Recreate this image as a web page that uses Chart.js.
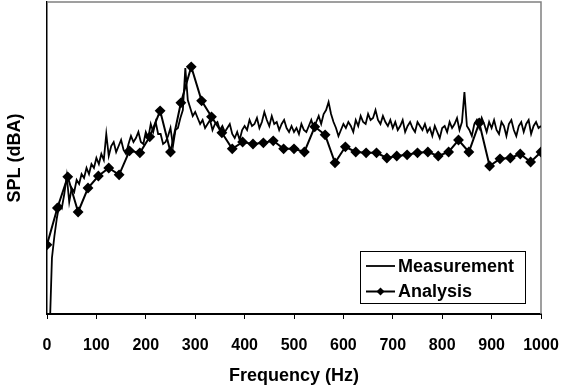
<!DOCTYPE html>
<html>
<head>
<meta charset="utf-8">
<script src="https://cdn.jsdelivr.net/npm/chart.js@4.4.1/dist/chart.umd.min.js"></script>
<style>
  body { margin: 0; background: #fff; }
  #wrap { width: 561px; height: 387px; }
</style>
</head>
<body>
<div id="wrap"><canvas id="chart-spl" width="561" height="387"></canvas></div>
<script>
// ---- data (SPL in arbitrary dBA units, the axis has no numbers) ----
const xTicks = [0, 100, 200, 300, 400, 500, 600, 700, 800, 900, 1000];

// analysis points, one every ~20.8 Hz
const analysisFreq = [0, 21, 42, 63, 83, 104, 125, 146, 167, 188, 208, 229, 250, 271, 292, 313, 333,
    354, 375, 396, 417, 438, 458, 479, 500, 521, 542, 563, 583, 604, 625, 646, 667, 688, 708, 729,
    750, 771, 792, 813, 833, 854, 875, 896, 917, 938, 958, 979, 1000];
const analysisSpl = [37.3, 46.5, 54.3, 45.5, 51.5, 54.5, 56.5, 54.8, 60.8, 60.3, 64.3, 70.8, 60.5,
    72.8, 81.8, 73.3, 69.3, 65.3, 61.3, 63.0, 62.5, 62.8, 63.3, 61.3, 61.3, 60.5, 66.8, 64.8, 57.8,
    61.8, 60.5, 60.3, 60.3, 59.0, 59.5, 59.8, 60.3, 60.5, 59.5, 60.5, 63.5, 60.5, 67.8, 57.0, 58.8,
    59.0, 60.0, 58.0, 60.5];

// measurement, sampled every 5 Hz starting at 5 Hz
const measStart = 5;
const measStep = 5;
const measSpl = [
    14, 34, 39.5, 44, 47.5, 46.5, 50, 54.5, 48, 51.5, 50.5, 53.5, 52.5, 55, 54, 56.5, 55, 57.5, 56.5, 59,
    57.5, 60, 58.5, 65, 59.5, 62, 63, 60.5, 62, 63.5, 61, 60, 62.5, 64.5, 63, 64, 65.5, 63, 62.5, 65.5,
    64, 67.5, 65.5, 68, 65, 65, 62.5, 63, 64.5, 66.5, 62, 66, 66.5, 69, 71, 81.5, 73.5, 71.5, 69.5, 70.5,
    69, 67.5, 68.5, 66.5, 67.5, 68.5, 66, 67.5, 68, 66, 67, 65.5, 66.5, 67.5, 65, 64, 65.5, 63.5, 66, 67,
    66, 68.5, 67, 67.5, 69, 66.5, 68, 70.5, 68.5, 67, 69.5, 67.5, 68, 66, 67.5, 68.5, 66.5, 65.5, 67, 65.5,
    66.5, 65, 67.5, 66, 65.5, 67, 68.5, 66.5, 68, 69.5, 67.5, 70, 71, 73, 70, 68, 66.5, 64.5, 66, 67.5,
    66.5, 68, 67, 65.5, 68.5, 67, 69.5, 68, 67.5, 70, 68.5, 69, 71, 68.5, 67.5, 69.5, 68, 67, 68.5, 66.5,
    68, 66, 67, 68.5, 65.5, 67, 68, 66.5, 65.5, 68, 67, 66, 67.5, 65.5, 66.5, 64.5, 67, 65.5, 64, 66.5,
    67, 65.5, 68, 66.5, 67.5, 69, 66, 68, 75.5, 67, 66, 64.5, 67.5, 68.5, 66.5, 69, 67.5, 65.5, 68, 66.5,
    68.5, 66, 65, 68, 67, 64.5, 67.5, 68.5, 66, 64.5, 67, 68, 65.5, 67.5, 68.5, 65, 67, 68, 66.5, 67
];

const yMin = 20;
const yMax = 98;

const FONT = "'Liberation Sans', Arial, sans-serif";

window.onload = () => {

    const measPoints = measSpl.map((v, i) => ({ x: measStart + i * measStep, y: v }));
    const analysisPoints = analysisSpl.map((v, i) => ({ x: analysisFreq[i], y: v }));

    // gray frame on top/right, like the old spreadsheet plot area
    const framePlugin = {
        id: 'frame',
        beforeDatasetsDraw(chart) {
            const a = chart.chartArea;
            const ctx = chart.ctx;
            ctx.save();
            ctx.strokeStyle = '#808080';
            ctx.lineWidth = 1.5;
            ctx.beginPath();
            ctx.moveTo(a.left, a.top);
            ctx.lineTo(a.right, a.top);
            ctx.lineTo(a.right, a.bottom);
            ctx.stroke();
            ctx.restore();
        }
    };

    // boxed legend sitting inside the plot, lower right
    const boxLegend = {
        id: 'boxLegend',
        afterDatasetsDraw(chart) {
            const a = chart.chartArea;
            const ctx = chart.ctx;
            const w = 165, h = 52;
            const x0 = a.right - 16 - w;
            const y0 = a.bottom - 11 - h;
            ctx.save();
            ctx.fillStyle = '#fff';
            ctx.fillRect(x0, y0, w, h);
            ctx.strokeStyle = '#000';
            ctx.lineWidth = 1;
            ctx.strokeRect(x0 + 0.5, y0 + 0.5, w, h);
            ctx.font = 'bold 18px ' + FONT;
            ctx.textBaseline = 'middle';
            ctx.fillStyle = '#000';
            chart.data.datasets.forEach((ds, i) => {
                const yy = y0 + 15 + i * 25.5;
                ctx.beginPath();
                ctx.lineWidth = ds.borderWidth;
                ctx.moveTo(x0 + 6, yy);
                ctx.lineTo(x0 + 35, yy);
                ctx.stroke();
                if (ds.pointRadius > 0) {
                    const cx = x0 + 20.5, r = ds.pointRadius;
                    ctx.beginPath();
                    ctx.moveTo(cx, yy - r);
                    ctx.lineTo(cx + r, yy);
                    ctx.lineTo(cx, yy + r);
                    ctx.lineTo(cx - r, yy);
                    ctx.closePath();
                    ctx.fill();
                }
                ctx.fillText(ds.label, x0 + 38, yy + 1);
            });
            ctx.restore();
        }
    };

    const element = document.getElementById('chart-spl');
    const chart = new Chart(element, {
        type: 'line',
        data: {
            datasets: [{
                    label: 'Measurement',
                    data: measPoints,
                    borderColor: '#000',
                    borderWidth: 1.8,
                    pointRadius: 0,
                    tension: 0
                },
                {
                    label: 'Analysis',
                    data: analysisPoints,
                    borderColor: '#000',
                    backgroundColor: '#000',
                    borderWidth: 2,
                    pointStyle: 'rectRot',
                    pointRadius: 4,
                    tension: 0
                }
            ]
        },
        plugins: [framePlugin, boxLegend],
        options: {
            responsive: false,
            animation: false,
            layout: { autoPadding: false, padding: { top: 2, right: 20, left: 0, bottom: 0 } },
            plugins: {
                legend: { display: false },
                tooltip: { enabled: false }
            },
            scales: {
                x: {
                    type: 'linear',
                    min: 0,
                    max: 1000,
                    afterBuildTicks: (scale) => { scale.ticks = xTicks.map(v => ({ value: v })); },
                    afterFit: (scale) => {
                        scale.height = 73;
                        scale.paddingLeft = 0;
                        scale.paddingRight = 0;
                    },
                    grid: {
                        drawOnChartArea: false,
                        drawTicks: true,
                        tickLength: 5,
                        color: '#000'
                    },
                    border: { color: '#000', width: 2 },
                    ticks: {
                        color: '#000',
                        padding: 17,
                        maxRotation: 0,
                        callback: (v) => String(v),
                        font: { family: FONT, size: 16, weight: 'bold' }
                    },
                    title: {
                        display: true,
                        text: 'Frequency (Hz)',
                        color: '#000',
                        padding: { top: 4, bottom: 0 },
                        font: { family: FONT, size: 18, weight: 'bold' }
                    }
                },
                y: {
                    min: yMin,
                    max: yMax,
                    afterFit: (scale) => {
                        scale.width = 47;
                        scale.paddingTop = 0;
                        scale.paddingBottom = 0;
                    },
                    grid: { display: false },
                    border: { color: '#000', width: 1.5 },
                    ticks: { display: false },
                    title: {
                        display: true,
                        text: 'SPL (dBA)',
                        color: '#000',
                        padding: { top: 4, bottom: 0 },
                        font: { family: FONT, size: 18, weight: 'bold' }
                    }
                }
            }
        }
    });

}
</script>
</body>
</html>
